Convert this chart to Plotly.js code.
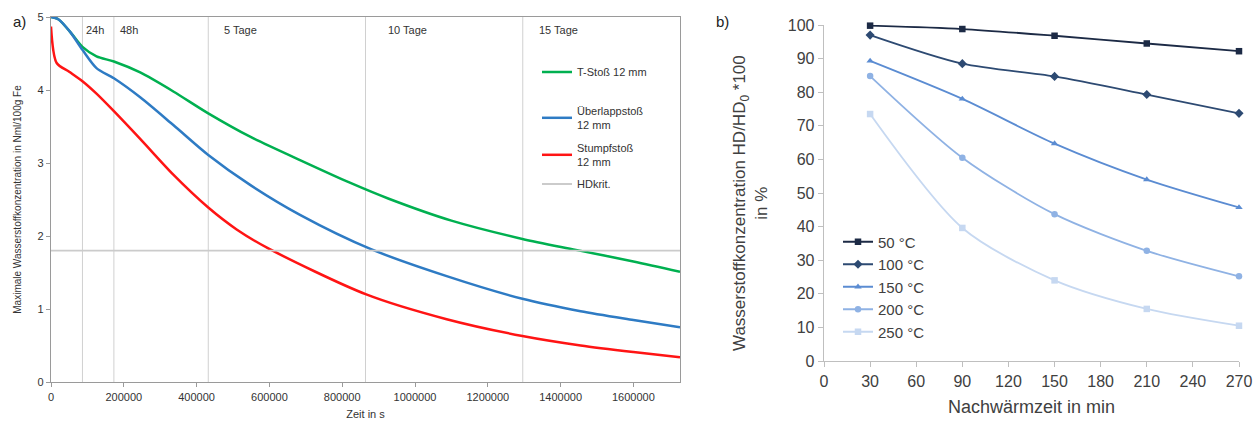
<!DOCTYPE html>
<html>
<head>
<meta charset="utf-8">
<script src="https://cdn.plot.ly/plotly-3.0.1.min.js"></script>
<style>html,body{margin:0;padding:0;background:#fff;}#chart{width:1255px;height:426px;}</style>
</head>
<body>
<div id="chart"></div>
<script>
// ---------- Chart a) data ----------
const tGreen = [0, 20000, 52000, 86400, 125000, 172800, 245000, 336000, 432000, 547000, 684000, 821000, 928000, 1100000, 1295000, 1442000, 1600000, 1728000];
const vGreen = [5.0, 4.97, 4.80, 4.59, 4.46, 4.39, 4.24, 3.98, 3.68, 3.36, 3.04, 2.73, 2.51, 2.21, 1.96, 1.81, 1.65, 1.51];
const tBlue = [0, 20000, 52000, 86400, 125000, 172800, 245000, 336000, 432000, 547000, 684000, 879000, 1087000, 1295000, 1455000, 1600000, 1728000];
const vBlue = [5.0, 4.97, 4.80, 4.55, 4.30, 4.16, 3.90, 3.52, 3.11, 2.70, 2.29, 1.82, 1.45, 1.14, 0.97, 0.85, 0.75];
const tRed = [0, 15600, 50000, 86400, 125000, 172800, 245000, 336000, 432000, 510000, 597000, 866000, 1087000, 1295000, 1455000, 1600000, 1728000];
const vRed = [4.87, 4.37, 4.25, 4.12, 3.95, 3.71, 3.33, 2.84, 2.39, 2.09, 1.83, 1.20, 0.86, 0.63, 0.50, 0.41, 0.34];
const hdKrit = 1.8;
const timeRange = [0, 1728000];
const dayLines = [86400, 172800, 432000, 864000, 1296000];
const dayLabels = ["24h", "48h", "5 Tage", "10 Tage", "15 Tage"];
const seriesNamesA = ["T-Stoß 12 mm", "Überlappstoß<br>12 mm", "Stumpfstoß<br>12 mm", "HDkrit."];

// ---------- Chart b) data ----------
const nachwaermzeit = [30, 90, 150, 210, 270];
const temps = ["50 °C", "100 °C", "150 °C", "200 °C", "250 °C"];
const c50 = [99.8, 98.8, 96.8, 94.5, 92.2];
const c100 = [97.0, 88.5, 84.7, 79.3, 73.7];
const c150 = [89.3, 78.0, 64.7, 54.0, 45.7];
const c200 = [84.8, 60.5, 43.7, 32.8, 25.2];
const c250 = [73.5, 39.6, 24.0, 15.5, 10.5];

// ---------- styles ----------
const W = 1255, H = 426;
const FONT = "Liberation Sans, Arial, sans-serif";
const colA = ["#00b050", "#2e7bc4", "#ff1414"];
const colB = ["#1c2a45", "#2d4a72", "#5b8cd2", "#8fb2e4", "#c6d8f1"];
const symB = ["square", "diamond", "triangle-up", "circle", "square"];
const dayShift = [2, 4, 14, 20, 14];

const traces = [];
const legA = ["legend", "legend2", "legend3", "legend4"];
[[tGreen, vGreen], [tBlue, vBlue], [tRed, vRed]].forEach((s, i) => {
  traces.push({
    x: s[0], y: s[1], type: "scatter", mode: "lines", name: seriesNamesA[i],
    line: {color: colA[i], width: 2.5, shape: "spline", smoothing: 0.8},
    xaxis: "x", yaxis: "y", legend: legA[i], hoverinfo: "skip"
  });
});
traces.push({
  x: timeRange, y: timeRange.map(() => hdKrit), type: "scatter", mode: "lines",
  name: seriesNamesA[3], line: {color: "#cbcbcb", width: 1.8},
  xaxis: "x", yaxis: "y", legend: "legend4", hoverinfo: "skip"
});

[c50, c100, c150, c200, c250].forEach((v, i) => {
  traces.push({
    x: nachwaermzeit, y: v, type: "scatter", mode: "lines+markers", name: temps[i],
    line: {color: colB[i], width: 1.8, shape: "spline", smoothing: 0.8},
    marker: {symbol: symB[i], size: i === 1 ? 7 : 6.5, color: colB[i]},
    xaxis: "x2", yaxis: "y2", legend: "legend5", cliponaxis: false, hoverinfo: "skip"
  });
});

const px = v => v / W, py = v => 1 - v / H;

const shapes = dayLines.map(d => ({
  type: "line", xref: "x", yref: "y", x0: d, x1: d, y0: 0, y1: 5,
  line: {color: "#d0d0d0", width: 1}, layer: "below"
}));

const annotations = dayLabels.map((t, i) => ({
  text: t, xref: "x", yref: "paper", x: dayLines[i], y: py(30), xanchor: "left", yanchor: "middle",
  xshift: dayShift[i], showarrow: false, font: {family: FONT, size: 11, color: "#333"}
}));
annotations.push({text: "a)", xref: "paper", yref: "paper", x: px(11), y: py(21), xanchor: "left", yanchor: "middle",
  showarrow: false, font: {family: FONT, size: 15, color: "#222"}});
annotations.push({text: "b)", xref: "paper", yref: "paper", x: px(714), y: py(21), xanchor: "left", yanchor: "middle",
  showarrow: false, font: {family: FONT, size: 15, color: "#222"}});
annotations.push({text: "Wasserstoffkonzentration HD/HD<sub>0</sub> *100<br>in %", xref: "paper", yref: "paper",
  x: px(750), y: py(203), xanchor: "center", yanchor: "middle", textangle: -90, showarrow: false,
  font: {family: FONT, size: 17, color: "#404040"}});

const legBase = {
  xanchor: "left", yanchor: "middle", bgcolor: "rgba(0,0,0,0)", borderwidth: 0,
  font: {family: FONT, size: 11, color: "#333"}, itemwidth: 30, tracegroupgap: 0
};
const layout = {
  width: W, height: H, margin: {l: 0, r: 0, t: 0, b: 0},
  paper_bgcolor: "#fff", plot_bgcolor: "#fff",
  font: {family: FONT, color: "#333"},
  showlegend: true,
  xaxis: {
    domain: [px(51), px(680)], range: timeRange, dtick: 200000, tick0: 0, tickformat: "d",
    showgrid: false, zeroline: false, showline: true, linecolor: "#9a9a9a", linewidth: 1.3, mirror: true,
    ticks: "outside", ticklen: 4, tickcolor: "#9a9a9a", tickfont: {family: FONT, size: 11, color: "#333"},
    title: {text: "Zeit in s", font: {family: FONT, size: 11, color: "#333"}, standoff: 8},
    anchor: "y", automargin: false
  },
  yaxis: {
    domain: [py(382), py(17)], range: [0, 5], dtick: 1,
    showgrid: false, zeroline: false, showline: true, linecolor: "#9a9a9a", linewidth: 1.3, mirror: true,
    ticks: "outside", ticklen: 4, tickcolor: "#9a9a9a", tickfont: {family: FONT, size: 11, color: "#333"},
    title: {text: "Maximale Wasserstoffkonzentration in Nml/100g Fe", font: {family: FONT, size: 10, color: "#333"}, standoff: 14},
    anchor: "x", automargin: false
  },
  xaxis2: {
    domain: [px(824), px(1239)], range: [0, 270], dtick: 30, tick0: 0,
    showgrid: false, zeroline: false, showline: true, linecolor: "#bfbfbf", linewidth: 1.3,
    ticks: "outside", ticklen: 5, tickcolor: "#bfbfbf", tickfont: {family: FONT, size: 16, color: "#404040"},
    title: {text: "Nachwärmzeit in min", font: {family: FONT, size: 18, color: "#404040"}, standoff: 12},
    anchor: "y2", automargin: false
  },
  yaxis2: {
    domain: [py(361), py(25)], range: [0, 100], dtick: 10,
    showgrid: false, zeroline: false, showline: true, linecolor: "#bfbfbf", linewidth: 1.3,
    ticks: "outside", ticklen: 5, tickcolor: "#bfbfbf", tickfont: {family: FONT, size: 16, color: "#404040"},
    anchor: "x2", automargin: false
  },
  legend: Object.assign({}, legBase, {x: px(537), y: py(72)}),
  legend2: Object.assign({}, legBase, {x: px(537), y: py(118)}),
  legend3: Object.assign({}, legBase, {x: px(537), y: py(155)}),
  legend4: Object.assign({}, legBase, {x: px(537), y: py(184)}),
  legend5: Object.assign({}, legBase, {x: px(838), y: py(287), font: {family: FONT, size: 15, color: "#404040"}}),
  shapes: shapes,
  annotations: annotations
};

Plotly.newPlot("chart", traces, layout, {displayModeBar: false, staticPlot: true});
</script>
</body>
</html>
